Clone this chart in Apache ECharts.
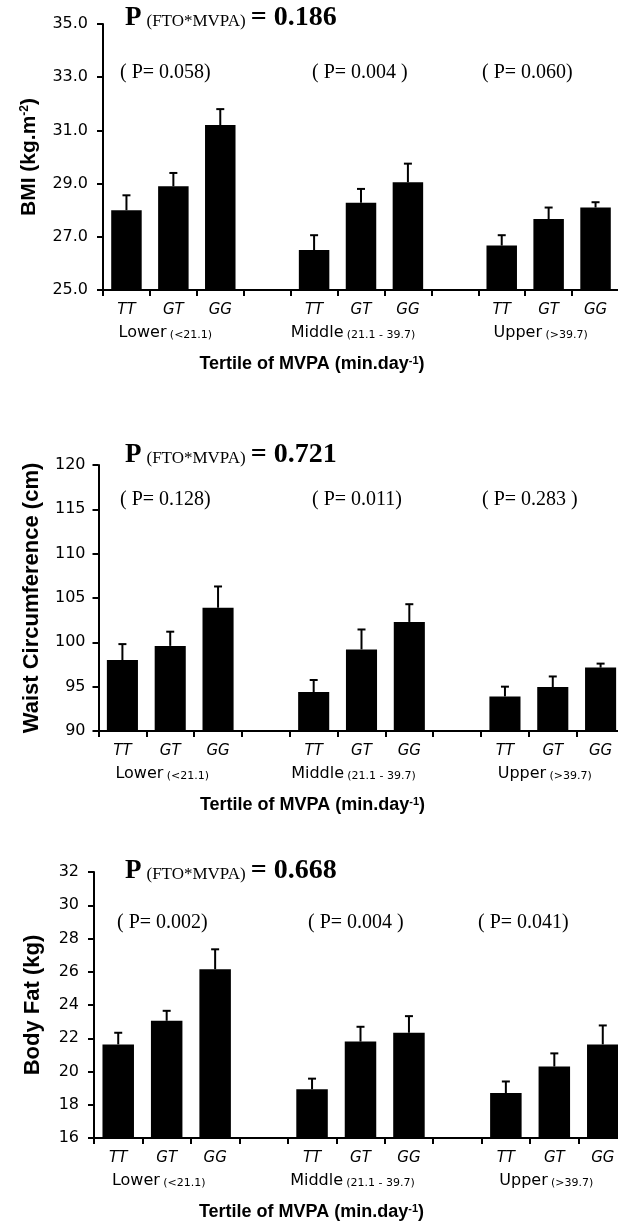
<!DOCTYPE html>
<html>
<head>
<meta charset="utf-8">
<script src="https://cdn.jsdelivr.net/npm/echarts@6/dist/echarts.min.js"></script>
<style>
  html, body { margin: 0; padding: 0; background: #fff; }
  #chart { width: 618px; height: 1227px; }
</style>
</head>
<body>
<div id="chart"></div>
<script>
// genotype slots, with an empty slot between tertiles
const categories = ['TT', 'GT', 'GG', '', 'TT', 'GT', 'GG', '', 'TT', 'GT', 'GG'];
const groupLabels = ['Lower', 'Middle', 'Upper'];
const groupRanges = ['(<21.1)', '(21.1 - 39.7)', '(>39.7)'];

// means and top of the error bar (mean + SE), order TT GT GG per tertile
const bmiMean = [28.0, 28.9, 31.2, 26.5, 28.28, 29.05, 26.67, 27.67, 28.1];
const bmiUpper = [28.56, 29.4, 31.8, 27.06, 28.8, 29.75, 27.06, 28.1, 28.3];
const waistMean = [98.0, 99.6, 103.9, 94.4, 99.2, 102.3, 93.9, 94.95, 97.15];
const waistUpper = [99.8, 101.2, 106.3, 95.75, 101.45, 104.3, 95.0, 96.15, 97.6];
const fatMean = [21.63, 23.05, 26.15, 18.93, 21.8, 22.33, 18.7, 20.3, 21.63];
const fatUpper = [22.33, 23.65, 27.35, 19.57, 22.69, 23.33, 19.4, 21.09, 22.77];

const interactionP = ['0.186', '0.721', '0.668'];
const bmiP = ['( P= 0.058)', '( P= 0.004 )', '( P= 0.060)'];
const waistP = ['( P= 0.128)', '( P= 0.011)', '( P= 0.283 )'];
const fatP = ['( P= 0.002)', '( P= 0.004 )', '( P= 0.041)'];

const slots = [0, 1, 2, 4, 5, 6, 8, 9, 10];
const groupSlots = [1, 5, 9];

const sans = 'DejaVu Sans';
const serif = 'Liberation Serif';

const chart = echarts.init(document.getElementById('chart'));

const panels = [
  { grid: { left: 103, top: 24, width: 516, height: 266 }, min: 25, max: 35, step: 2, dec: 1,
    name: 'BMI (kg.m{sup|-2})', nameSize: 21, nameGap: 63, labelMargin: 15,
    mean: bmiMean, upper: bmiUpper, p: bmiP, pTitle: interactionP[0],
    titleY: 19, pY: 74, pX: [120, 312, 482] },
  { grid: { left: 98.5, top: 465, width: 526, height: 266 }, min: 90, max: 120, step: 5, dec: 0,
    name: 'Waist Circumference (cm)', nameSize: 22, nameGap: 56, labelMargin: 13,
    mean: waistMean, upper: waistUpper, p: waistP, pTitle: interactionP[1],
    titleY: 456, pY: 501, pX: [120, 312, 482] },
  { grid: { left: 94, top: 872, width: 533, height: 266 }, min: 16, max: 32, step: 2, dec: 0,
    name: 'Body Fat (kg)', nameSize: 22, nameGap: 50, labelMargin: 15,
    mean: fatMean, upper: fatUpper, p: fatP, pTitle: interactionP[2],
    titleY: 872, pY: 924, pX: [117, 308, 478] }
];

const grids = [], xAxes = [], yAxes = [], series = [], graphics = [];

panels.forEach((pn, i) => {
  grids.push(Object.assign({ outerBoundsMode: 'none', containLabel: false }, pn.grid));

  xAxes.push({
    type: 'category', gridIndex: i, data: categories, position: 'bottom',
    axisLine: { show: true, onZero: false, lineStyle: { color: '#000', width: 2 } },
    axisTick: { show: true, length: 6, lineStyle: { color: '#000', width: 2 } },
    axisLabel: { interval: 0, margin: 13, color: '#000', fontFamily: sans, fontSize: 15, fontStyle: 'italic' },
    splitLine: { show: false },
    name: 'Tertile of MVPA (min.day{sup|-1})', nameLocation: 'middle', nameGap: 65,
    nameTextStyle: {
      color: '#000', fontFamily: 'Liberation Sans', fontWeight: 'bold', fontSize: 18,
      padding: [0, 98, 0, 0],
      rich: { sup: { fontFamily: 'Liberation Sans', fontWeight: 'bold', fontSize: 11, verticalAlign: 'top', color: '#000' } }
    }
  });
  // tertile labels under the genotypes
  xAxes.push({
    type: 'category', gridIndex: i, position: 'bottom',
    data: categories.map((c, k) => {
      const g = groupSlots.indexOf(k);
      return g >= 0 ? groupLabels[g] : ' ' + k;
    }),
    axisLine: { show: false }, axisTick: { show: false }, splitLine: { show: false },
    axisLabel: {
      interval: 0, margin: 35,
      formatter: (v, k) => {
        const g = groupSlots.indexOf(k);
        return g >= 0 ? '{a|' + groupLabels[g] + '} {b|' + groupRanges[g] + '}' : '';
      },
      rich: {
        a: { fontFamily: sans, fontSize: 16, color: '#000', verticalAlign: 'bottom' },
        b: { fontFamily: sans, fontSize: 11, color: '#000', verticalAlign: 'bottom', padding: [0, 16, 0, 0] }
      }
    }
  });

  yAxes.push({
    type: 'value', gridIndex: i, min: pn.min, max: pn.max, interval: pn.step,
    axisLine: { show: true, lineStyle: { color: '#000', width: 2 } },
    axisTick: { show: true, length: 6, lineStyle: { color: '#000', width: 2 } },
    splitLine: { show: false },
    axisLabel: { margin: pn.labelMargin, color: '#000', fontFamily: sans, fontSize: 16,
      formatter: v => v.toFixed(pn.dec) },
    name: pn.name, nameLocation: 'middle', nameGap: pn.nameGap,
    nameTextStyle: {
      color: '#000', fontFamily: 'Liberation Sans', fontWeight: 'bold', fontSize: pn.nameSize,
      rich: { sup: { fontFamily: 'Liberation Sans', fontWeight: 'bold', fontSize: 12, verticalAlign: 'top', color: '#000' } }
    }
  });

  const barData = categories.map(() => '-');
  slots.forEach((s, k) => { barData[s] = pn.mean[k]; });

  series.push({
    type: 'bar', xAxisIndex: i * 2, yAxisIndex: i, data: barData,
    barWidth: '65%', itemStyle: { color: '#000' }, silent: true
  });

  series.push({
    type: 'custom', xAxisIndex: i * 2, yAxisIndex: i, z: 3, silent: true,
    data: slots.map((s, k) => [s, pn.mean[k], pn.upper[k]]),
    renderItem: (params, api) => {
      const lo = api.coord([api.value(0), api.value(1)]);
      const hi = api.coord([api.value(0), api.value(2)]);
      const st = { stroke: '#000', lineWidth: 2 };
      return {
        type: 'group',
        children: [
          { type: 'line', shape: { x1: lo[0], y1: lo[1], x2: hi[0], y2: hi[1] }, style: st },
          { type: 'line', shape: { x1: hi[0] - 4, y1: hi[1], x2: hi[0] + 4, y2: hi[1] }, style: st }
        ]
      };
    }
  });

  graphics.push({
    type: 'text', left: 125, top: pn.titleY - 15,
    style: {
      text: '{p|P} {s|(FTO*MVPA)} {b|= ' + pn.pTitle + '}',
      fill: '#000', fontFamily: serif, fontSize: 20,
      rich: {
        p: { fontFamily: serif, fontWeight: 'bold', fontSize: 27, verticalAlign: 'bottom', fill: '#000' },
        s: { fontFamily: serif, fontSize: 17, verticalAlign: 'bottom', fill: '#000', padding: [0, 0, 2, 0] },
        b: { fontFamily: serif, fontWeight: 'bold', fontSize: 28, verticalAlign: 'bottom', fill: '#000' }
      }
    }
  });
  pn.p.forEach((t, k) => {
    graphics.push({
      type: 'text', left: pn.pX[k], top: pn.pY - 11,
      style: { text: t, fill: '#000', fontFamily: serif, fontSize: 20 }
    });
  });
});

chart.setOption({
  animation: false,
  backgroundColor: '#fff',
  grid: grids,
  xAxis: xAxes,
  yAxis: yAxes,
  series: series,
  graphic: graphics
});

window.addEventListener('resize', () => chart.resize());
</script>
</body>
</html>
